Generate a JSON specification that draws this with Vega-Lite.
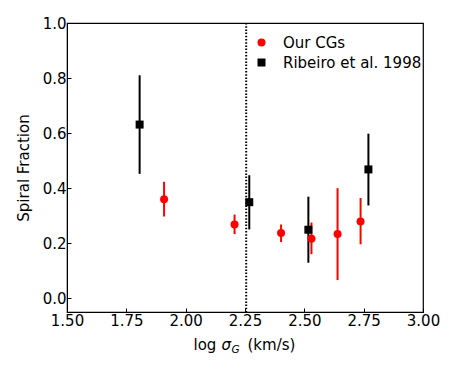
{
  "$schema": "https://vega.github.io/schema/vega-lite/v6.json",
  "autosize": "none",
  "width": 356,
  "height": 289,
  "padding": {"left": 67, "top": 23, "right": 34, "bottom": 62},
  "background": "white",
  "config": {
    "font": "DejaVu Sans",
    "view": {"stroke": "black", "strokeWidth": 1.2},
    "axis": {
      "grid": false,
      "domainColor": "black",
      "tickColor": "black",
      "labelColor": "black",
      "titleColor": "black",
      "labelFontSize": 15,
      "titleFontSize": 15,
      "titleFontWeight": "normal",
      "tickSize": -4,
      "tickWidth": 1,
      "labelPadding": 5,
      "labelFlush": false,
      "labelOverlap": false
    }
  },
  "datasets": {
    "pts": [
      {"series": "Our CGs", "x": 1.909, "y": 0.360, "lo": 0.297, "hi": 0.423},
      {"series": "Our CGs", "x": 2.206, "y": 0.268, "lo": 0.233, "hi": 0.304},
      {"series": "Our CGs", "x": 2.402, "y": 0.237, "lo": 0.204, "hi": 0.268},
      {"series": "Our CGs", "x": 2.530, "y": 0.216, "lo": 0.160, "hi": 0.275},
      {"series": "Our CGs", "x": 2.640, "y": 0.233, "lo": 0.066, "hi": 0.400},
      {"series": "Our CGs", "x": 2.737, "y": 0.279, "lo": 0.196, "hi": 0.364},
      {"series": "Ribeiro et al. 1998", "x": 1.806, "y": 0.631, "lo": 0.452, "hi": 0.810},
      {"series": "Ribeiro et al. 1998", "x": 2.268, "y": 0.349, "lo": 0.250, "hi": 0.447},
      {"series": "Ribeiro et al. 1998", "x": 2.517, "y": 0.249, "lo": 0.129, "hi": 0.369},
      {"series": "Ribeiro et al. 1998", "x": 2.770, "y": 0.468, "lo": 0.337, "hi": 0.598}
    ],
    "vline": [{"x": 2.255}]
  },
  "resolve": {"axis": {"x": "independent"}},
  "layer": [
    {
      "data": {"name": "vline"},
      "mark": {"type": "rule", "color": "black", "strokeWidth": 2, "strokeDash": [1.5, 1.7]},
      "encoding": {
        "x": {
          "field": "x", "type": "quantitative",
          "scale": {"domain": [1.5, 3.0], "nice": false, "zero": false},
          "axis": {
            "orient": "bottom",
            "values": [1.5, 1.75, 2.0, 2.25, 2.5, 2.75, 3.0],
            "format": ".2f",
            "title": "log",
            "titleX": 126, "titleY": 37, "titleAlign": "left", "titleBaseline": "alphabetic"
          }
        }
      }
    },
    {
      "data": {"name": "pts"},
      "transform": [{"filter": "datum.series === 'Our CGs'"}],
      "mark": {"type": "rule", "color": "red", "strokeWidth": 2},
      "encoding": {
        "x": {"field": "x", "type": "quantitative",
          "axis": {"orient": "bottom", "labels": false, "ticks": false, "domain": false,
            "title": "σ", "titleFontStyle": "italic",
            "titleX": 154, "titleY": 37, "titleAlign": "left", "titleBaseline": "alphabetic"}},
        "y": {"field": "lo", "type": "quantitative",
          "scale": {"domain": [-0.05, 1.0], "nice": false, "zero": false},
          "axis": {"values": [0, 0.2, 0.4, 0.6, 0.8, 1.0], "format": ".1f", "title": "Spiral Fraction", "titlePadding": 11}},
        "y2": {"field": "hi"}
      }
    },
    {
      "data": {"name": "pts"},
      "transform": [{"filter": "datum.series !== 'Our CGs'"}],
      "mark": {"type": "rule", "color": "black", "strokeWidth": 2},
      "encoding": {
        "x": {"field": "x", "type": "quantitative",
          "axis": {"orient": "bottom", "labels": false, "ticks": false, "domain": false,
            "title": "G", "titleFontStyle": "italic", "titleFontSize": 10.5,
            "titleX": 164, "titleY": 40, "titleAlign": "left", "titleBaseline": "alphabetic"}},
        "y": {"field": "lo", "type": "quantitative"},
        "y2": {"field": "hi"}
      }
    },
    {
      "data": {"name": "pts"},
      "mark": {"type": "point", "filled": true, "opacity": 1, "size": 64},
      "encoding": {
        "x": {"field": "x", "type": "quantitative",
          "axis": {"orient": "bottom", "labels": false, "ticks": false, "domain": false,
            "title": "(km/s)",
            "titleX": 180, "titleY": 37, "titleAlign": "left", "titleBaseline": "alphabetic"}},
        "y": {"field": "y", "type": "quantitative"},
        "color": {
          "field": "series", "type": "nominal",
          "scale": {"domain": ["Our CGs", "Ribeiro et al. 1998"], "range": ["red", "black"]},
          "legend": {
            "title": null, "orient": "none", "legendX": 187, "legendY": 12,
            "labelFontSize": 15, "labelColor": "black", "symbolSize": 64,
            "labelOffset": 14, "rowPadding": 4, "symbolStrokeWidth": 0
          }
        },
        "shape": {
          "field": "series", "type": "nominal",
          "scale": {"domain": ["Our CGs", "Ribeiro et al. 1998"], "range": ["circle", "square"]}
        }
      }
    }
  ]
}
